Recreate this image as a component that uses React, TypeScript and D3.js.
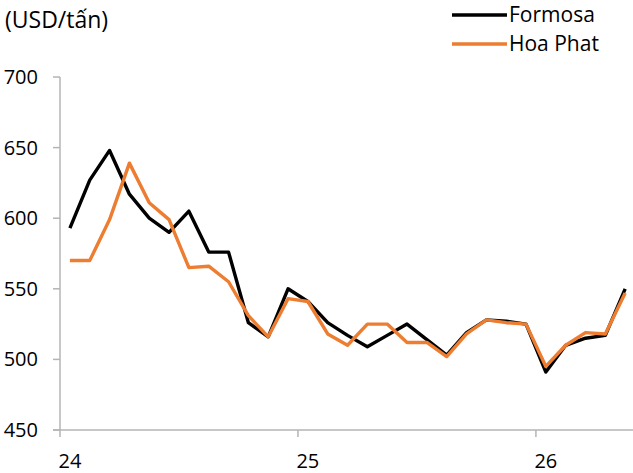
import React from "react";
import * as d3 from "d3";

// Monthly export price series, Jan-24 through May-26
const formosa = [593, 627, 648, 617, 600, 590, 605, 576, 576, 526, 516, 550, 541, 526, 517, 509, 517, 525, 514, 503, 519, 528, 527, 525, 491, 510, 515, 517, 550];
const hoaPhat = [570, 570, 599, 639, 611, 599, 565, 566, 555, 531, 516, 543, 541, 518, 510, 525, 525, 512, 512, 502, 518, 528, 526, 525, 495, 510, 519, 518, 547];
const yTicks = [450, 500, 550, 600, 650, 700];
const yearLabels = ["24", "25", "26"];
const yearStartIndex = [0, 12, 24];
const seriesNames = ["Formosa", "Hoa Phat"];
const unitLabel = "(USD/tấn)";

const W = 633;
const H = 473;
const FONT = "'Open Sans', 'Noto Sans', sans-serif";
const COLORS = ["#000000", "#ED7D31"];
const AXIS = "#B4B4B4";

export default function App() {
  const n = formosa.length;
  // category boundaries: each month occupies one slot
  const x = d3.scaleLinear().domain([0, n]).range([60, 60 + n * 19.83]);
  const y = d3.scaleLinear().domain([450, 700]).range([430, 77]);

  const line = d3
    .line<number>()
    .x((_, i) => x(i + 0.5))
    .y((d) => y(d));

  const series = [formosa, hoaPhat];

  return (
    <svg
      width={W}
      height={H}
      style={{ position: "absolute", left: 0, top: 0, background: "#fff" }}
      fontFamily={FONT}
    >
      {/* unit label */}
      <text x={5} y={28} fontSize={23} fill="#000">
        {unitLabel}
      </text>

      {/* y axis */}
      <line x1={60} x2={60} y1={y(700)} y2={y(450)} stroke={AXIS} strokeWidth={1.5} />
      {yTicks.map((t) => (
        <g key={t}>
          <line x1={53} x2={60} y1={y(t)} y2={y(t)} stroke={AXIS} strokeWidth={1.5} />
          <text x={38} y={y(t) + 7} fontSize={20} textAnchor="end" fill="#000">
            {t}
          </text>
        </g>
      ))}

      {/* x axis */}
      <line x1={53} x2={W} y1={y(450)} y2={y(450)} stroke={AXIS} strokeWidth={1.5} />
      {yearStartIndex.map((idx, k) => (
        <g key={idx}>
          <line x1={x(idx)} x2={x(idx)} y1={y(450)} y2={y(450) + 7} stroke={AXIS} strokeWidth={1.5} />
          <text x={x(idx + 0.5)} y={468} fontSize={20} textAnchor="middle" fill="#000">
            {yearLabels[k]}
          </text>
        </g>
      ))}

      {/* series lines */}
      {series.map((s, k) => (
        <path
          key={k}
          d={line(s) ?? ""}
          fill="none"
          stroke={COLORS[k]}
          strokeWidth={3.4}
          strokeLinejoin="round"
        />
      ))}

      {/* legend */}
      {seriesNames.map((name, k) => (
        <g key={name}>
          <line x1={452} x2={507} y1={15 + k * 29} y2={15 + k * 29} stroke={COLORS[k]} strokeWidth={3.4} />
          <text x={509} y={22 + k * 29} fontSize={21} fill="#000">
            {name}
          </text>
        </g>
      ))}
    </svg>
  );
}
